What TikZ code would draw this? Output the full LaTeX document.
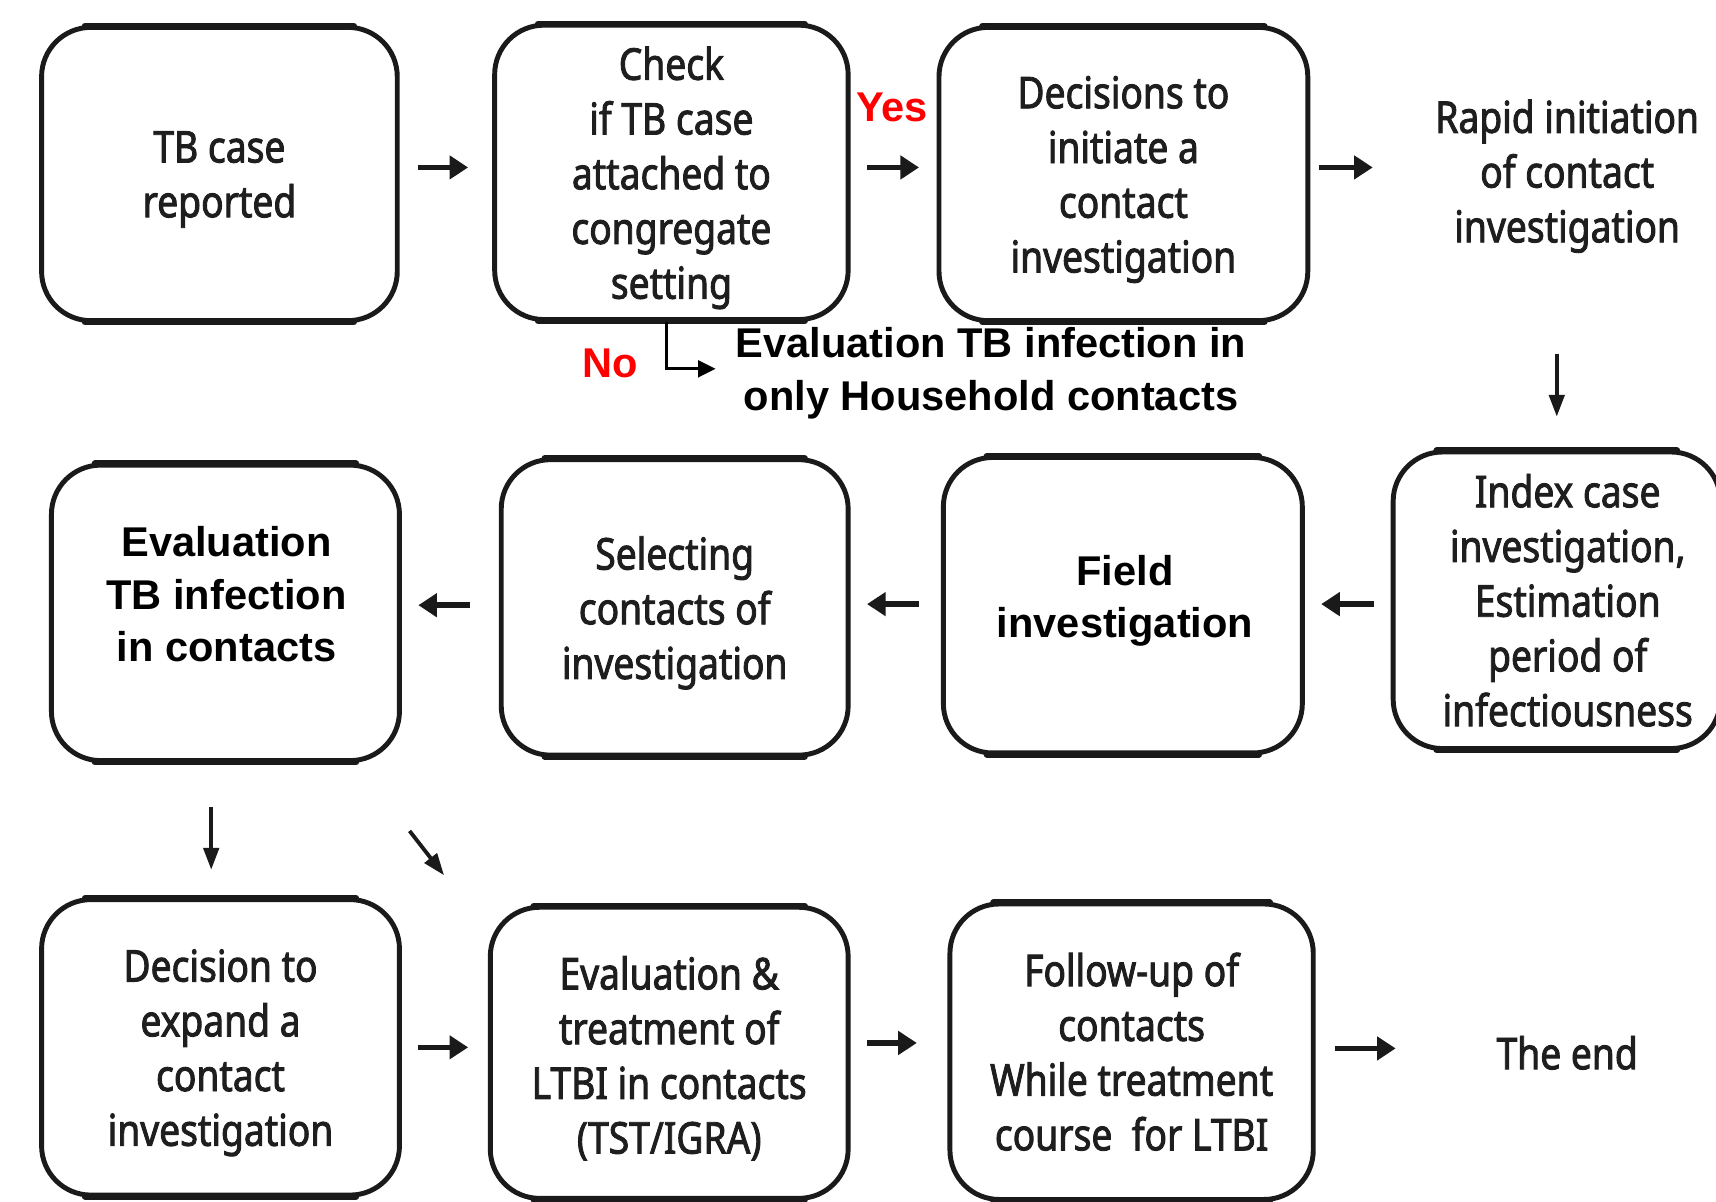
\documentclass[tikz,border=0pt]{standalone}
\usepackage{fontspec}
\setmainfont[FakeStretch=0.85,FakeBold=2]{Noto Sans}
\newfontfamily\arialfont{Liberation Sans}
\usetikzlibrary{arrows.meta}
\definecolor{boxline}{HTML}{1A1A1A}
\definecolor{boxtext}{HTML}{1E1E1E}
\newcommand\boxfont{\fontsize{40}{50}\selectfont}
\newcommand\boldfont{\arialfont\bfseries\fontsize{38}{48}\selectfont}
\begin{document}
\begin{tikzpicture}[x=1pt,y=-1pt,
  box/.style={draw=boxline, line width=4.5pt, rounded corners=45pt, inner sep=0pt},
  txt/.style={align=center, text=boxtext, font=\boxfont, inner sep=0pt},
  btxt/.style={align=center, text=black, font=\boldfont, inner sep=0pt},
  harrow/.style={draw=boxline, line width=5pt, -{Triangle[length=17pt,width=21pt]}},
  varrow/.style={draw=boxline, line width=3.5pt, -{Triangle[length=20pt,width=14pt]}},
  narrow/.style={draw=black, line width=3pt, -{Triangle[length=16pt,width=15pt]}}
]
\useasboundingbox (0,0) rectangle (1568,1098);

% boxes
\node[box, minimum width=325pt, minimum height=268pt] (b1) at (200.5,159) {};
\node[box, minimum width=323pt, minimum height=269pt] (b2) at (613.5,157.5) {};
\node[box, minimum width=337pt, minimum height=268pt] (b3) at (1026.5,159) {};
\node[box, minimum width=299pt, minimum height=271pt] (b8) at (1422.5,548.5) {};
\node[box, minimum width=328pt, minimum height=270pt] (b7) at (1026,553) {};
\node[box, minimum width=317pt, minimum height=270pt] (b6) at (616.5,555) {};
\node[box, minimum width=318pt, minimum height=270pt] (b5) at (206,560) {};
\node[box, minimum width=327pt, minimum height=270pt] (b9) at (201.5,957) {};
\node[box, minimum width=327pt, minimum height=266pt] (b10) at (611.5,962) {};
\node[box, minimum width=332pt, minimum height=270pt] (b11) at (1034,961) {};

% heavier top and bottom edges
\foreach \b in {b1,b2,b3,b5,b6,b7,b8,b9,b10,b11}
  \draw[line width=6pt, boxline, line cap=round]
    ([xshift=42pt,yshift=-1pt]\b.north west) -- ([xshift=-42pt,yshift=-1pt]\b.north east)
    ([xshift=42pt,yshift=1pt]\b.south west) -- ([xshift=-42pt,yshift=1pt]\b.south east);

% box texts
\node[txt, yshift=-5pt] (b1t) at (b1) {TB case\\reported};
\node[txt, yshift=-5pt] (b2t) at (b2) {Check\\if TB case\\attached to\\congregate\\setting};
\node[txt, yshift=-5pt] (b3t) at (b3) {Decisions to\\initiate a\\contact\\investigation};
\node[txt] (rapid) at (1432,161) {Rapid initiation\\of contact\\investigation};
\node[txt, xshift=10pt] (b8t) at (b8) {Index case\\investigation,\\Estimation\\period of\\infectiousness};
\node[btxt] (b7t) at (1028,549) {Field\\investigation};
\node[txt, yshift=-5pt] (b6t) at (b6) {Selecting\\contacts of\\investigation};
\node[btxt] (b5t) at (207,543) {Evaluation\\TB infection\\in contacts};
\node[txt, yshift=-5pt] (b9t) at (b9) {Decision to\\expand a\\contact\\investigation};
\node[txt, yshift=-5pt] (b10t) at (b10) {Evaluation \&\\treatment of\\LTBI in contacts\\(TST/IGRA)};
\node[txt] (b11t) at (b11) {Follow-up of\\contacts\\While treatment\\course\ \ for LTBI};
\node[txt] (theend) at (1432,962) {The end};

% labels
\node[btxt, text=red] (yes) at (815,98) {Yes};
\node[btxt, text=red] (no) at (558,332) {No};
\node[btxt] (house) at (905.5,341) {Evaluation TB infection in\\only Household contacts};

% connectors row 1
\draw[harrow, shorten <=17pt, shorten >=22pt] ([yshift=6pt]b1.east) -- ([yshift=6pt]b1.east -| b2.west);
\draw[harrow, shorten <=15pt, shorten >=16pt] ([yshift=4.5pt]b2.east) -- ([yshift=4.5pt]b2.east -| b3.west);
\draw[harrow, shorten <=8pt, shorten >=57pt] ([yshift=6pt]b3.east) -- ([yshift=6pt]b3.east -| rapid.west);
\draw[narrow, shorten >=18pt] ([xshift=-4.5pt]b2.south) |- ([yshift=4pt]house.west);
\draw[varrow, shorten <=92pt, shorten >=30pt] (rapid.south -| b8.north) -- (b8.north);

% connectors row 2
\draw[harrow, shorten <=15pt, shorten >=15pt] ([yshift=-3.5pt]b8.west) -- ([yshift=-3.5pt]b8.west -| b7.east);
\draw[harrow, shorten <=20pt, shorten >=15pt] ([yshift=1pt]b7.west) -- ([yshift=1pt]b7.west -| b6.east);
\draw[harrow, shorten <=26pt, shorten >=15pt] ([yshift=2pt]b6.west) -- ([yshift=2pt]b6.west -| b5.east);
\draw[varrow, shorten <=40pt, shorten >=25pt] ([xshift=-8.5pt]b9.north |- b5.south) -- ([xshift=-8.5pt]b9.north);
\draw[varrow] ([xshift=7pt,yshift=-62pt]b5.south east) -- ([xshift=-40pt,yshift=27pt]b10.north west);

% connectors row 3
\draw[harrow, shorten <=15pt, shorten >=18pt] (b9.east) -- (b9.east -| b10.west);
\draw[harrow, shorten <=15pt, shorten >=28pt] ([yshift=9pt]b10.east) -- ([yshift=9pt]b10.east -| b11.west);
\draw[harrow, shorten <=18pt, shorten >=92pt] ([yshift=3pt]b11.east) -- ([yshift=3pt]b11.east -| theend.west);
\end{tikzpicture}
\end{document}
